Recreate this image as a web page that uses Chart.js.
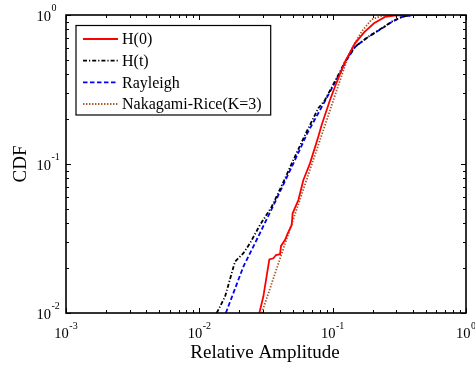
<!DOCTYPE html>
<html><head><meta charset="utf-8">
<script src="https://cdn.jsdelivr.net/npm/chart.js@4/dist/chart.umd.min.js"></script>
<style>html,body{margin:0;padding:0;background:#fff;}#wrap{width:475px;height:367px;position:relative;}</style>
</head><body><div id="wrap"><canvas id="c" width="475" height="367"></canvas></div>
<script>
// ---- data ----
const h0Amp = [0.0282,0.0302,0.0335,0.0359,0.0376,0.0403,0.0410,0.0439,0.0457,0.0493,0.0501,0.0553,0.0603,0.0676,0.0780,0.0827,0.0955,0.104,0.1238,0.147,0.172,0.204,0.247,0.290,0.330,0.700];
const h0Cdf = [0.0100,0.0129,0.0229,0.0233,0.0245,0.0248,0.0282,0.0309,0.0337,0.0390,0.0467,0.0573,0.0781,0.101,0.1525,0.183,0.269,0.330,0.486,0.645,0.765,0.880,0.970,0.990,1.0,1.0];

const htAmp = [0.0135,0.0156,0.0185,0.0214,0.0240,0.0285,0.0349,0.0417,0.0507,0.0631,0.0780,0.0876,0.0989,0.1135,0.1238,0.147,0.185,0.233,0.277,0.330,0.380,0.420,0.700];
const htCdf = [0.0100,0.0129,0.0221,0.0252,0.0294,0.0390,0.0517,0.0723,0.1064,0.1615,0.2365,0.269,0.330,0.416,0.486,0.613,0.715,0.814,0.902,0.974,0.995,1.0,1.0];

const rayAmp = [0.0158,0.0214,0.0285,0.0376,0.0522,0.0647,0.0884,0.1150,0.1245,0.148,0.186,0.235,0.280,0.335,0.390,0.430,0.700];
const rayCdf = [0.0100,0.0205,0.0344,0.0573,0.1064,0.1615,0.269,0.416,0.486,0.613,0.715,0.814,0.902,0.974,0.995,1.0,1.0];

const nrAmp = [0.0294,0.0403,0.0569,0.0804,0.104,0.1238,0.1373,0.165,0.196,0.233,0.269,0.700];
const nrCdf = [0.0100,0.0232,0.058,0.145,0.288,0.457,0.582,0.775,0.933,0.985,1.0,1.0];

const seriesLabels = ['H(0)','H(t)','Rayleigh','Nakagami-Rice(K=3)'];
const xTickExps = [-3,-2,-1,0];
const yTickExps = [-2,-1,0];
const xTitle = 'Relative Amplitude';
const yTitle = 'CDF';

const pts = (a,c) => a.map((v,i)=>({x:v,y:c[i]}));
const SERIF = '"Liberation Serif","Times New Roman",serif';

const deco = {
  id:'deco',
  afterDatasetsDraw(chart){
    const {ctx, chartArea:a, scales:{x,y}} = chart;
    ctx.save();
    const line=(x1,y1,x2,y2)=>{ctx.beginPath();ctx.moveTo(x1,y1);ctx.lineTo(x2,y2);ctx.stroke();};
    // inward ticks
    ctx.strokeStyle='#000'; ctx.lineWidth=1;
    for (const e of xTickExps){
      for (let m=1;m<=9;m++){
        const v=m*Math.pow(10,e);
        if (v>x.max*1.0001) break;
        const px=Math.round(x.getPixelForValue(v))+0.5;
        const L=m===1?5:3;
        line(px,a.bottom,px,a.bottom-L); line(px,a.top,px,a.top+L);
      }
    }
    for (const e of yTickExps){
      for (let m=1;m<=9;m++){
        const v=m*Math.pow(10,e);
        if (v>y.max*1.0001) break;
        const py=Math.round(y.getPixelForValue(v))+0.5;
        const L=m===1?5:3;
        line(a.left,py,a.left+L,py); line(a.right,py,a.right-L,py);
      }
    }
    // box
    ctx.lineWidth=1.6;
    ctx.strokeRect(a.left,a.top,a.right-a.left,a.bottom-a.top);

    // legend
    const lx=76, ly=25.5, lw=194.7, lh=89.5;
    ctx.fillStyle='#fff'; ctx.fillRect(lx,ly,lw,lh);
    ctx.lineWidth=1.2; ctx.strokeStyle='#000'; ctx.strokeRect(lx,ly,lw,lh);
    const rows=[39,60.7,82.3,104];
    ctx.font='16px '+SERIF; ctx.textBaseline='middle'; ctx.textAlign='left';
    chart.data.datasets.forEach((ds,i)=>{
      const ry=rows[i];
      ctx.strokeStyle=ds.borderColor; ctx.lineWidth=ds.borderWidth;
      ctx.setLineDash(ds.borderDash||[]);
      line(83,ry,118,ry);
      ctx.setLineDash([]);
      ctx.fillStyle='#000';
      ctx.fillText(ds.label,122,ry+1);
    });
    ctx.restore();
  },
  afterDraw(chart){
    const {ctx, chartArea:a, scales:{x,y}} = chart;
    ctx.save();
    ctx.fillStyle='#000';
    ctx.textBaseline='alphabetic';
    // x tick labels
    for (const e of xTickExps){
      const px=x.getPixelForValue(Math.pow(10,e));
      ctx.font='14.5px '+SERIF; const wb=ctx.measureText('10').width;
      ctx.font='10px '+SERIF; const we=ctx.measureText(String(e)).width;
      const sx=px-(wb+we+0.5)/2;
      ctx.textAlign='left';
      ctx.font='14.5px '+SERIF; ctx.fillText('10',sx,337.5);
      ctx.font='10px '+SERIF; ctx.fillText(String(e),sx+wb+0.5,329);
    }
    // y tick labels
    for (const e of yTickExps){
      const py=y.getPixelForValue(Math.pow(10,e));
      ctx.textAlign='right'; ctx.font='14.5px '+SERIF; ctx.fillText('10',51,py+6.3);
      ctx.textAlign='left'; ctx.font='10px '+SERIF; ctx.fillText(String(e),51.5,py-4.5);
    }
    // axis titles
    ctx.font='19px '+SERIF; ctx.textAlign='center';
    ctx.fillText(xTitle,265,357.5);
    ctx.save(); ctx.translate(26,(a.top+a.bottom)/2); ctx.rotate(-Math.PI/2);
    ctx.fillText(yTitle,0,0); ctx.restore();
    ctx.restore();
  }
};

new Chart(document.getElementById('c'),{
  type:'scatter',
  data:{datasets:[
    {label:seriesLabels[0],data:pts(h0Amp,h0Cdf),borderColor:'#FF0000',borderWidth:1.8,borderDash:[],showLine:true,pointRadius:0,tension:0},
    {label:seriesLabels[1],data:pts(htAmp,htCdf),borderColor:'#000000',borderWidth:1.8,borderDash:[4,2,1.2,2],showLine:true,pointRadius:0,tension:0},
    {label:seriesLabels[2],data:pts(rayAmp,rayCdf),borderColor:'#0000FF',borderWidth:1.8,borderDash:[4.5,2.5],showLine:true,pointRadius:0,tension:0},
    {label:seriesLabels[3],data:pts(nrAmp,nrCdf),borderColor:'#A8552A',borderWidth:1.8,borderDash:[1.4,1.6],showLine:true,pointRadius:0,tension:0}
  ]},
  options:{
    responsive:false, animation:false, devicePixelRatio:1,
    layout:{padding:{left:66,right:9,top:15,bottom:54}},
    plugins:{legend:{display:false},tooltip:{enabled:false}},
    scales:{
      x:{type:'logarithmic',min:0.001,max:1,grid:{display:false,drawTicks:false},border:{display:false},ticks:{display:false},title:{display:false}},
      y:{type:'logarithmic',min:0.01,max:1,grid:{display:false,drawTicks:false},border:{display:false},ticks:{display:false},title:{display:false}}
    }
  },
  plugins:[deco]
});
</script></body></html>
